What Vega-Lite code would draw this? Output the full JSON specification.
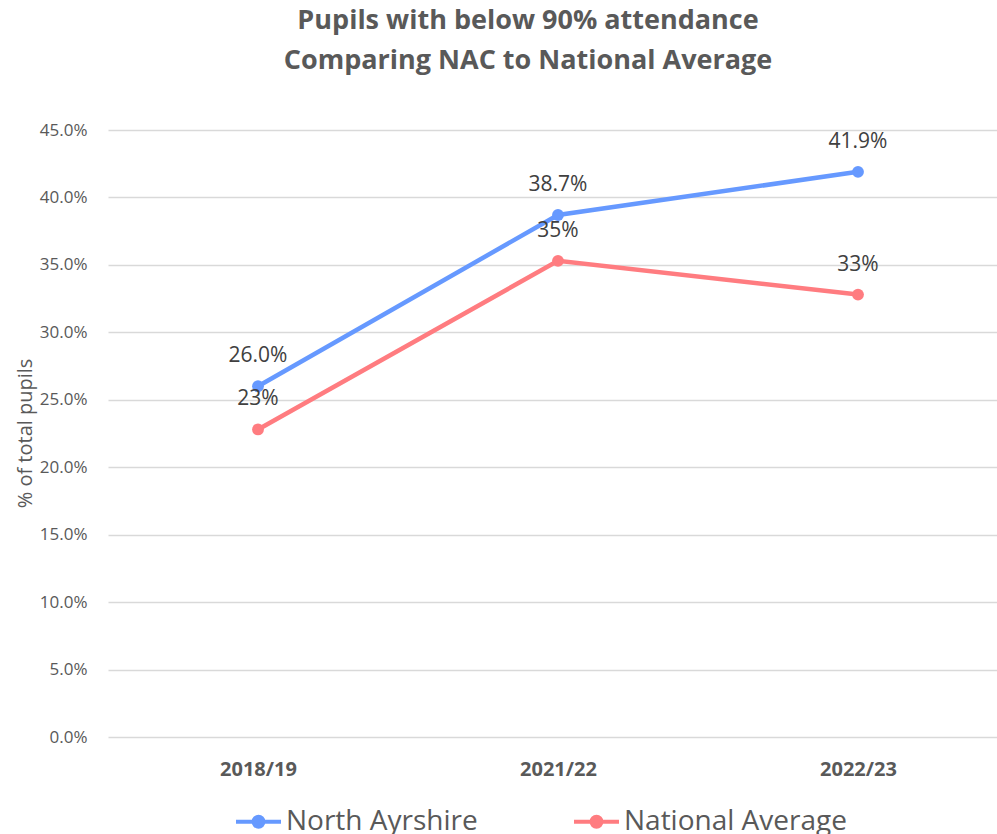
{
  "$schema": "https://vega.github.io/schema/vega-lite/v6.json",
  "autosize": {"type": "none"},
  "width": 900,
  "height": 607,
  "padding": {"left": 108, "top": 130, "right": -11, "bottom": 97},
  "background": "white",
  "config": {
    "font": "Open Sans",
    "view": {"stroke": null}
  },
  "title": {
    "text": ["Pupils with below 90% attendance", "Comparing NAC to National Average"],
    "fontSize": 27,
    "fontWeight": "bold",
    "color": "#595959",
    "font": "Open Sans",
    "anchor": "middle",
    "frame": "group",
    "dx": -30,
    "offset": 46,
    "lineHeight": 40
  },
  "data": {
    "values": [
      {"year": "2018/19", "series": "North Ayrshire", "value": 0.260},
      {"year": "2021/22", "series": "North Ayrshire", "value": 0.387},
      {"year": "2022/23", "series": "North Ayrshire", "value": 0.419},
      {"year": "2018/19", "series": "National Average", "value": 0.228},
      {"year": "2021/22", "series": "National Average", "value": 0.353},
      {"year": "2022/23", "series": "National Average", "value": 0.328}
    ]
  },
  "encoding": {
    "x": {
      "field": "year",
      "type": "ordinal",
      "scale": {"type": "point", "padding": 0.5},
      "axis": {
        "title": null,
        "domain": false,
        "ticks": false,
        "grid": false,
        "labelAngle": 0,
        "labelFontSize": 20,
        "labelFontWeight": "bold",
        "labelColor": "#595959",
        "labelPadding": 22
      }
    },
    "y": {
      "field": "value",
      "type": "quantitative",
      "scale": {"domain": [0, 0.45], "nice": false},
      "axis": {
        "title": "% of total pupils",
        "titleFontSize": 20,
        "titleFontWeight": "normal",
        "titleColor": "#595959",
        "titleX": -83,
        "titleY": 303,
        "titleAngle": -90,
        "titleBaseline": "middle",
        "titleAlign": "center",
        "values": [0, 0.05, 0.1, 0.15, 0.2, 0.25, 0.3, 0.35, 0.4, 0.45],
        "format": ".1%",
        "domain": false,
        "ticks": false,
        "labelFontSize": 17,
        "labelColor": "#595959",
        "labelPadding": 21,
        "gridColor": "#d9d9d9",
        "gridWidth": 1.3
      }
    },
    "color": {
      "field": "series",
      "type": "nominal",
      "scale": {"domain": ["North Ayrshire", "National Average"], "range": ["#6699FF", "#FF7C80"]},
      "legend": {
        "title": null,
        "orient": "none",
        "direction": "horizontal",
        "legendX": 126,
        "legendY": 667,
        "labelFontSize": 28,
        "labelColor": "#595959",
        "labelOffset": 3,
        "columnPadding": 88,
        "symbolType": "M-1,0H1M-0.22,0A0.22,0.22 0 1,1 0.22,0A0.22,0.22 0 1,1 -0.22,0Z",
        "symbolSize": 2025,
        "symbolStrokeWidth": 4,
        "labelLimit": 400,
        "encode": {
          "symbols": {
            "update": {
              "fill": {"scale": "color", "field": "value"},
              "stroke": {"scale": "color", "field": "value"},
              "opacity": {"value": 1}
            }
          }
        }
      }
    }
  },
  "layer": [
    {"mark": {"type": "line", "strokeWidth": 4.5}},
    {"mark": {"type": "circle", "size": 140, "opacity": 1}},
    {
      "transform": [{"filter": "datum.series === 'North Ayrshire'"}],
      "mark": {"type": "text", "dy": -30, "fontSize": 21},
      "encoding": {"text": {"field": "value", "type": "quantitative", "format": ".1%"}, "color": {"value": "#404040"}}
    },
    {
      "transform": [{"filter": "datum.series === 'National Average'"}],
      "mark": {"type": "text", "dy": -30, "fontSize": 21},
      "encoding": {"text": {"field": "value", "type": "quantitative", "format": ".0%"}, "color": {"value": "#404040"}}
    }
  ]
}
